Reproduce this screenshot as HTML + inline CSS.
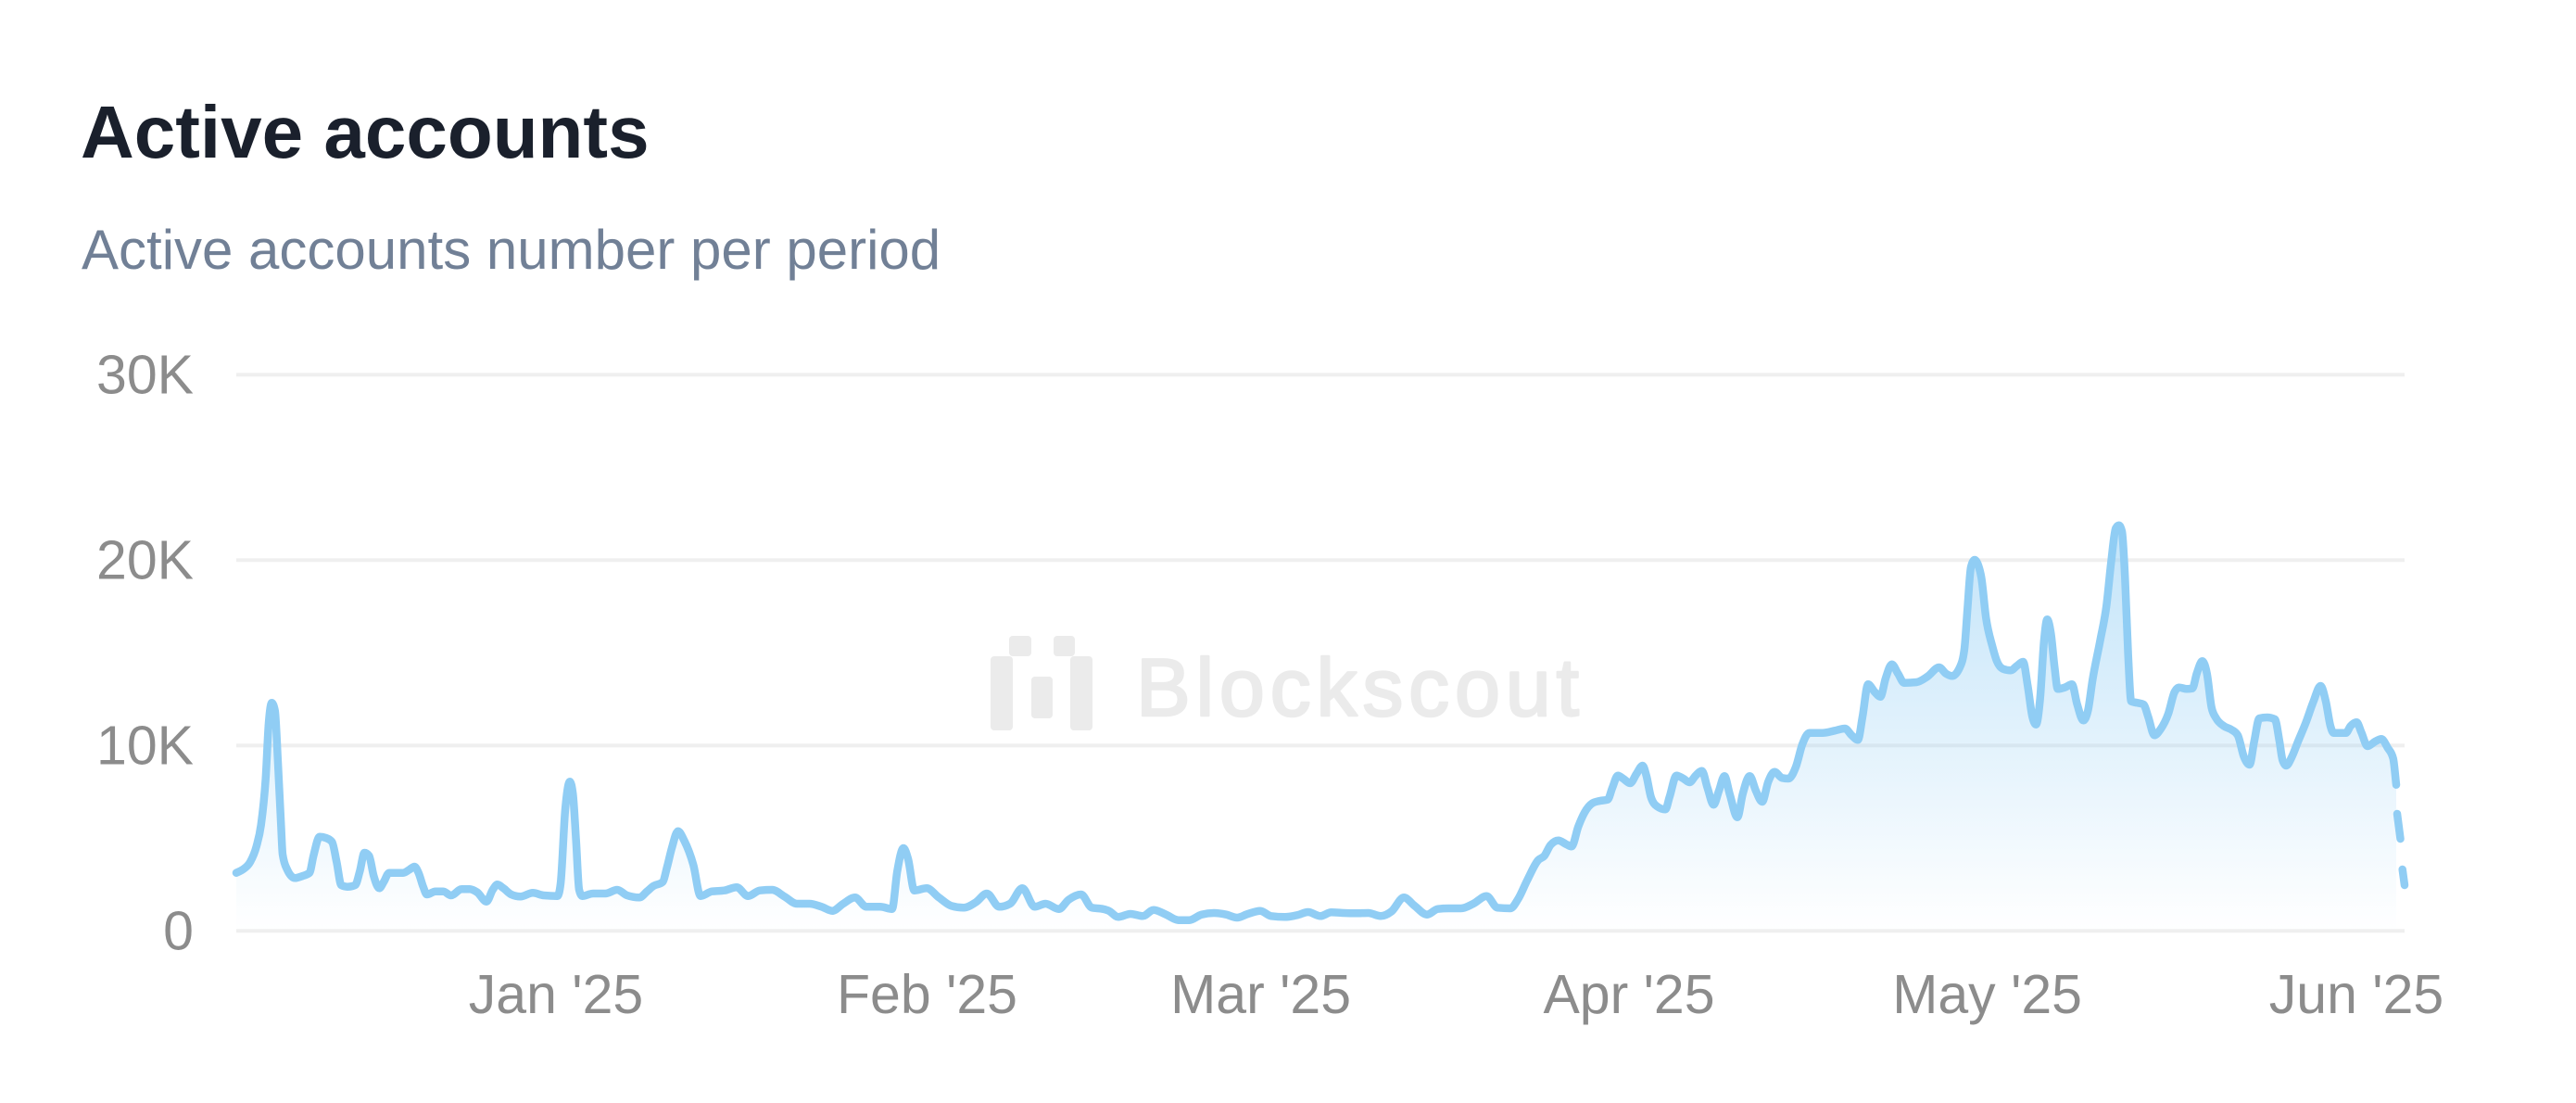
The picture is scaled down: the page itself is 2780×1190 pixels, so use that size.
<!DOCTYPE html>
<html>
<head>
<meta charset="utf-8">
<style>
  html, body { margin: 0; padding: 0; background: #ffffff; }
  body { width: 2780px; height: 1190px; overflow: hidden; }
  svg { display: block; }
  text { font-family: "Liberation Sans", Arial, Helvetica, sans-serif; }
</style>
</head>
<body>
<svg id="chart" width="2780" height="1190" viewBox="0 0 2780 1190" xmlns="http://www.w3.org/2000/svg">
  <defs>
    <linearGradient id="areaGrad" x1="0" y1="0" x2="0" y2="1">
      <stop offset="0%" stop-color="#90cdf4" stop-opacity="0.55"/>
      <stop offset="100%" stop-color="#90cdf4" stop-opacity="0"/>
    </linearGradient>
  </defs>

  <!-- Title & subtitle -->
  <text x="87" y="170" font-size="80" font-weight="700" fill="#1a202c">Active accounts</text>
  <text x="88" y="290" font-size="60" fill="#718096">Active accounts number per period</text>

  <!-- Gridlines -->
  <g fill="#efefef">
    <rect x="255" y="402.3" width="2340" height="4"/>
    <rect x="255" y="602.3" width="2340" height="4"/>
    <rect x="255" y="802.3" width="2340" height="4"/>
    <rect x="255" y="1002.3" width="2340" height="4"/>
  </g>

  <!-- Y labels -->
  <g font-size="59" fill="#8c8c8c" text-anchor="end">
    <text x="209" y="424.3">30K</text>
    <text x="209" y="624.3">20K</text>
    <text x="209" y="824.3">10K</text>
    <text x="209" y="1024.3">0</text>
  </g>

  <!-- X labels -->
  <g font-size="59" fill="#8c8c8c" text-anchor="middle">
    <text x="600" y="1093">Jan '25</text>
    <text x="1000.5" y="1093">Feb '25</text>
    <text x="1360.6" y="1093">Mar '25</text>
    <text x="1758" y="1093">Apr '25</text>
    <text x="2144.6" y="1093">May '25</text>
    <text x="2543" y="1093">Jun '25</text>
  </g>

  <!-- Watermark -->
  <g fill="#ebebeb">
    <rect x="1069" y="708" width="24" height="80" rx="4"/>
    <rect x="1089" y="686" width="24" height="22" rx="4"/>
    <rect x="1113" y="730" width="23" height="45" rx="4"/>
    <rect x="1137" y="686" width="23" height="22" rx="4"/>
    <rect x="1155" y="708" width="24" height="80" rx="4"/>
    <text x="1226" y="772" font-size="88" font-weight="400" stroke="#ebebeb" stroke-width="2.5" stroke-linejoin="round" textLength="478" lengthAdjust="spacing">Blockscout</text>
  </g>

  <!-- Area fill (fallback polygon, replaced by smooth path via script) -->
  <polygon id="areaPoly" fill="url(#areaGrad)" points="
255,941.7 261.7,938.3 270,930 276.7,913.3 281.7,890 286.7,840 290,780 293.3,758.3 296.7,766.7 300,823.3 303.3,890 305,921.7 310,938.3 318.3,947.3 326.7,945 334,941.7 338.3,923.3 345,902.7 351.7,904 358.3,908.3 363.3,930 368.3,955 375,956.7 383.3,955 388.3,940 393.3,920 398.3,923.3 403.3,945 409.3,958.3 414,951.7 420,941.7 426.7,941.7 435,941.7 441.7,938.3 447.3,935 451.7,941.7 456.7,956.7 460.7,965 470,961.7 478.3,961.7 486.7,966 498.3,959.3 506.7,959.3 515,962.7 525,972.7 531.7,960 536.7,954.3 543.3,958.3 551.7,965 561.7,967.3 575,963.3 586.7,966 601.7,966.7 605,953.3 610,873.3 615,843.3 618.3,856.7 621.7,906.7 625,960 628.3,966.7 640,964 653.3,964 666,960 676.7,966 690,968.3 698.3,961.7 705,956 715,951.7 720,935 725,915 731.7,896.7 738.3,906.7 748.3,933.3 756,966.7 768.3,961.7 781.7,960.7 795,957.3 807.3,966.7 820,960.7 833.3,960 846.7,967.3 860,975 873.3,975 886.7,978.3 898.3,982.7 910,975 922.7,968.3 935,978.3 950,978.3 962.7,980.7 968.3,940 975,915 980,926.7 986.7,960.7 1000,958.3 1013.3,968.3 1026.7,977.3 1040,979.3 1053.3,973.3 1065,964 1078.3,978.3 1090,975 1103.3,958.3 1116.7,978.3 1128.3,975 1142.7,980.7 1153.3,970.7 1166.7,965 1178.3,979.3 1190,980.7 1196.7,982.7 1206.7,989.3 1220,986 1233.3,988.3 1245,981.7 1258.3,986.7 1271.7,992.7 1283.3,992.7 1296.7,986.7 1310,985 1323.3,986.7 1335,990 1346.7,986 1360,982.7 1371.7,988.3 1386.7,989.3 1400,987.3 1411.7,984 1425,988.3 1436.7,984.3 1450,985 1463.3,985.3 1476.7,985 1490,988.3 1501.7,983.3 1515,968.3 1526.7,977.3 1540,986.7 1551.7,980.7 1563.3,980 1576.7,980 1590,975 1604.3,966.7 1616,979.3 1630,980 1638.3,970 1648,950 1660,928 1666.7,923.3 1673.3,911.7 1681.7,906.7 1690,910.7 1696,913.3 1703.3,891.7 1710,876.7 1718.3,866.7 1726.7,864 1735,862.7 1740,850 1746,836.7 1751.7,840 1759.3,845 1766,835 1772.7,826 1776.7,836.7 1781.7,860 1788.3,870 1797.3,873.3 1801.7,860 1809.3,836.7 1816.7,840 1823.3,844 1830,836.7 1836.7,831.7 1842.7,850 1849.3,868.3 1855,853.3 1861,837.3 1866.7,856.7 1875,881.7 1880.7,856.7 1888.3,837.3 1895,853.3 1901.7,865 1908.3,843.3 1915,832.7 1923.3,839.3 1930,840 1938.3,826.7 1945,803.3 1952.7,790.7 1966.7,790.7 1980,788.3 1991,786 1998.3,793.3 2005,798.3 2010,773.3 2016,738.3 2023.3,746.7 2029.3,751.7 2035,731.7 2041.7,716.7 2048.3,726.7 2055,736.7 2068.3,736 2080,730 2092.7,720 2100,726.7 2106.7,729.3 2115,720 2120,700 2123.3,656.7 2127,612 2131,604 2135,610 2138.3,623.3 2143.3,666.7 2150,696.7 2155,713.3 2161.7,721.7 2170,723.3 2176.7,718.3 2183.3,714 2188.3,740 2193.3,773.3 2197.3,781.7 2201.7,753.3 2206,690 2209.3,668.3 2213.3,683.3 2217.3,720 2220.7,743.3 2228.3,741.7 2236,738.3 2241.7,760 2248.3,777.3 2253.3,766.7 2258.3,733.3 2266.7,690 2273.3,653.3 2278.3,606.7 2283.3,570 2286.7,566.7 2290,573.3 2293.3,623.3 2296.7,706.7 2300,756.7 2306.7,758.3 2313.3,760 2318.3,773.3 2325,793.3 2331.7,786.7 2340,770 2346.7,746.7 2351.7,741.7 2360,743.3 2366,742.7 2370.7,726.7 2376.7,713.3 2381.7,726.7 2386.7,763.3 2391.7,775 2400,783.3 2408.3,787.3 2415,793.3 2421.7,816.7 2427.7,825 2432.7,800 2438.3,775 2446.7,774 2455,776 2460,800 2463.3,820 2467.3,826 2473.3,816.7 2480,800 2488.3,780 2496.7,756.7 2504.3,740 2510,756.7 2515,783.3 2518.3,790.7 2526.7,790.7 2531.7,790.7 2536.7,783.3 2543.3,779.3 2548.3,790 2555,805 2563.3,800 2570,797.3 2576.7,806.7 2582.7,818.3 2584,840 2584,1004.3 255,1004.3"/>
  <path id="areaPath" fill="url(#areaGrad)" d=""/>

  <!-- Line (fallback polyline, replaced by smooth path via script) -->
  <polyline id="linePoly" fill="none" stroke="#90cdf4" stroke-width="8.5" stroke-linejoin="round" stroke-linecap="round" points="
255,941.7 261.7,938.3 270,930 276.7,913.3 281.7,890 286.7,840 290,780 293.3,758.3 296.7,766.7 300,823.3 303.3,890 305,921.7 310,938.3 318.3,947.3 326.7,945 334,941.7 338.3,923.3 345,902.7 351.7,904 358.3,908.3 363.3,930 368.3,955 375,956.7 383.3,955 388.3,940 393.3,920 398.3,923.3 403.3,945 409.3,958.3 414,951.7 420,941.7 426.7,941.7 435,941.7 441.7,938.3 447.3,935 451.7,941.7 456.7,956.7 460.7,965 470,961.7 478.3,961.7 486.7,966 498.3,959.3 506.7,959.3 515,962.7 525,972.7 531.7,960 536.7,954.3 543.3,958.3 551.7,965 561.7,967.3 575,963.3 586.7,966 601.7,966.7 605,953.3 610,873.3 615,843.3 618.3,856.7 621.7,906.7 625,960 628.3,966.7 640,964 653.3,964 666,960 676.7,966 690,968.3 698.3,961.7 705,956 715,951.7 720,935 725,915 731.7,896.7 738.3,906.7 748.3,933.3 756,966.7 768.3,961.7 781.7,960.7 795,957.3 807.3,966.7 820,960.7 833.3,960 846.7,967.3 860,975 873.3,975 886.7,978.3 898.3,982.7 910,975 922.7,968.3 935,978.3 950,978.3 962.7,980.7 968.3,940 975,915 980,926.7 986.7,960.7 1000,958.3 1013.3,968.3 1026.7,977.3 1040,979.3 1053.3,973.3 1065,964 1078.3,978.3 1090,975 1103.3,958.3 1116.7,978.3 1128.3,975 1142.7,980.7 1153.3,970.7 1166.7,965 1178.3,979.3 1190,980.7 1196.7,982.7 1206.7,989.3 1220,986 1233.3,988.3 1245,981.7 1258.3,986.7 1271.7,992.7 1283.3,992.7 1296.7,986.7 1310,985 1323.3,986.7 1335,990 1346.7,986 1360,982.7 1371.7,988.3 1386.7,989.3 1400,987.3 1411.7,984 1425,988.3 1436.7,984.3 1450,985 1463.3,985.3 1476.7,985 1490,988.3 1501.7,983.3 1515,968.3 1526.7,977.3 1540,986.7 1551.7,980.7 1563.3,980 1576.7,980 1590,975 1604.3,966.7 1616,979.3 1630,980 1638.3,970 1648,950 1660,928 1666.7,923.3 1673.3,911.7 1681.7,906.7 1690,910.7 1696,913.3 1703.3,891.7 1710,876.7 1718.3,866.7 1726.7,864 1735,862.7 1740,850 1746,836.7 1751.7,840 1759.3,845 1766,835 1772.7,826 1776.7,836.7 1781.7,860 1788.3,870 1797.3,873.3 1801.7,860 1809.3,836.7 1816.7,840 1823.3,844 1830,836.7 1836.7,831.7 1842.7,850 1849.3,868.3 1855,853.3 1861,837.3 1866.7,856.7 1875,881.7 1880.7,856.7 1888.3,837.3 1895,853.3 1901.7,865 1908.3,843.3 1915,832.7 1923.3,839.3 1930,840 1938.3,826.7 1945,803.3 1952.7,790.7 1966.7,790.7 1980,788.3 1991,786 1998.3,793.3 2005,798.3 2010,773.3 2016,738.3 2023.3,746.7 2029.3,751.7 2035,731.7 2041.7,716.7 2048.3,726.7 2055,736.7 2068.3,736 2080,730 2092.7,720 2100,726.7 2106.7,729.3 2115,720 2120,700 2123.3,656.7 2127,612 2131,604 2135,610 2138.3,623.3 2143.3,666.7 2150,696.7 2155,713.3 2161.7,721.7 2170,723.3 2176.7,718.3 2183.3,714 2188.3,740 2193.3,773.3 2197.3,781.7 2201.7,753.3 2206,690 2209.3,668.3 2213.3,683.3 2217.3,720 2220.7,743.3 2228.3,741.7 2236,738.3 2241.7,760 2248.3,777.3 2253.3,766.7 2258.3,733.3 2266.7,690 2273.3,653.3 2278.3,606.7 2283.3,570 2286.7,566.7 2290,573.3 2293.3,623.3 2296.7,706.7 2300,756.7 2306.7,758.3 2313.3,760 2318.3,773.3 2325,793.3 2331.7,786.7 2340,770 2346.7,746.7 2351.7,741.7 2360,743.3 2366,742.7 2370.7,726.7 2376.7,713.3 2381.7,726.7 2386.7,763.3 2391.7,775 2400,783.3 2408.3,787.3 2415,793.3 2421.7,816.7 2427.7,825 2432.7,800 2438.3,775 2446.7,774 2455,776 2460,800 2463.3,820 2467.3,826 2473.3,816.7 2480,800 2488.3,780 2496.7,756.7 2504.3,740 2510,756.7 2515,783.3 2518.3,790.7 2526.7,790.7 2531.7,790.7 2536.7,783.3 2543.3,779.3 2548.3,790 2555,805 2563.3,800 2570,797.3 2576.7,806.7 2582.7,818.3 2586,846.7"/>
  <path id="linePath" fill="none" stroke="#90cdf4" stroke-width="8.5" stroke-linejoin="round" stroke-linecap="round" d=""/>

  <!-- Dashed tail -->
  <g stroke="#90cdf4" stroke-width="8.5" stroke-linecap="round">
    <line x1="2587" y1="878" x2="2590.5" y2="905"/>
    <line x1="2592.7" y1="938" x2="2595" y2="955"/>
  </g>
</svg>
<script>
(function(){
  try {
    var poly = document.getElementById('linePoly');
    var raw = poly.getAttribute('points').trim().split(/\s+/);
    var pts = [];
    for (var i = 0; i < raw.length; i++) {
      var p = raw[i].split(',');
      pts.push([parseFloat(p[0]), parseFloat(p[1])]);
    }
    var n = pts.length;
    if (n < 3) return;
    var s = [], h = [];
    for (i = 0; i < n - 1; i++) {
      h[i] = pts[i+1][0] - pts[i][0];
      s[i] = h[i] !== 0 ? (pts[i+1][1] - pts[i][1]) / h[i] : 0;
    }
    var m = [];
    m[0] = s[0];
    m[n-1] = s[n-2];
    for (i = 1; i < n - 1; i++) {
      var s0 = s[i-1], s1 = s[i], h0 = h[i-1], h1 = h[i];
      if (s0 * s1 <= 0) { m[i] = 0; continue; }
      var pp = (s0 * h1 + s1 * h0) / (h0 + h1);
      var sg = (s0 > 0 ? 1 : -1) + (s1 > 0 ? 1 : -1);
      m[i] = sg * Math.min(Math.abs(s0), Math.abs(s1), 0.5 * Math.abs(pp));
    }
    var d = 'M' + pts[0][0] + ',' + pts[0][1];
    for (i = 0; i < n - 1; i++) {
      var dx = h[i] / 3;
      d += 'C' + (pts[i][0] + dx).toFixed(2) + ',' + (pts[i][1] + m[i] * dx).toFixed(2) + ' ' +
           (pts[i+1][0] - dx).toFixed(2) + ',' + (pts[i+1][1] - m[i+1] * dx).toFixed(2) + ' ' +
           pts[i+1][0] + ',' + pts[i+1][1];
    }
    document.getElementById('linePath').setAttribute('d', d);
    var last = pts[n-1];
    var ad = d + 'L' + last[0] + ',1004.3L' + pts[0][0] + ',1004.3Z';
    document.getElementById('areaPath').setAttribute('d', ad);
    poly.style.display = 'none';
    document.getElementById('areaPoly').style.display = 'none';
  } catch (e) {}
})();
</script>
</body>
</html>
